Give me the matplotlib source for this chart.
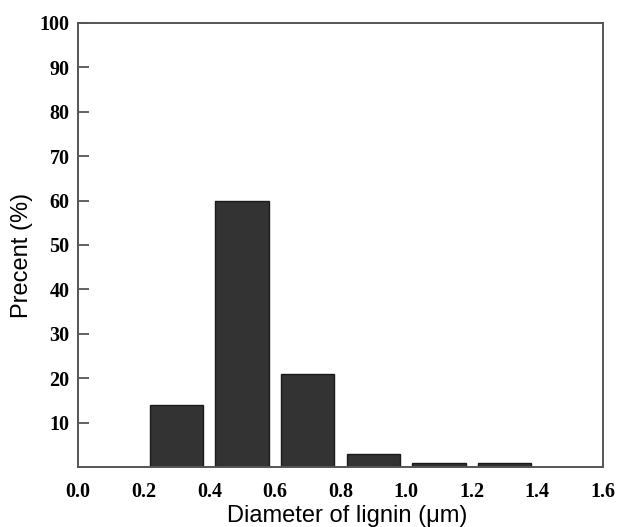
import matplotlib.pyplot as plt

# particle size distribution of lignin
diameters = [0.3, 0.5, 0.7, 0.9, 1.1, 1.3]
percents = [14, 60, 21, 3, 1, 1]
y_ticks = [10, 20, 30, 40, 50, 60, 70, 80, 90, 100]
x_ticks = [0.0, 0.2, 0.4, 0.6, 0.8, 1.0, 1.2, 1.4, 1.6]

fig = plt.figure(figsize=(6.2, 5.27), dpi=100)
ax = fig.add_axes([78 / 620, 60 / 527, 525 / 620, 444 / 527])

ax.bar(diameters, percents, width=0.163, color='#333333',
       edgecolor='#1a1a1a', linewidth=1.0)

ax.set_xlim(0, 1.6)
ax.set_ylim(0, 100)
ax.set_xticks(x_ticks)
ax.set_xticklabels([f'{v:.1f}' for v in x_ticks])
ax.set_yticks(y_ticks)

for lbl in ax.get_xticklabels() + ax.get_yticklabels():
    lbl.set_fontfamily('Liberation Serif')
    lbl.set_fontweight('bold')
    lbl.set_fontsize(14.5)

ax.tick_params(axis='y', direction='in', length=8, width=1.3,
               color='#555555', pad=6)
ax.tick_params(axis='x', length=0, pad=11)

for spine in ax.spines.values():
    spine.set_color('#555555')
    spine.set_linewidth(1.4)

ax.set_xlabel('Diameter of lignin (μm)', family='Liberation Sans', fontsize=17)
ax.set_ylabel('Precent (%)', family='Liberation Sans', fontsize=17)
ax.xaxis.set_label_coords(0.513, -0.085)
ax.yaxis.set_label_coords(-0.086, 0.476)

fig.savefig('out.png', dpi=100)
